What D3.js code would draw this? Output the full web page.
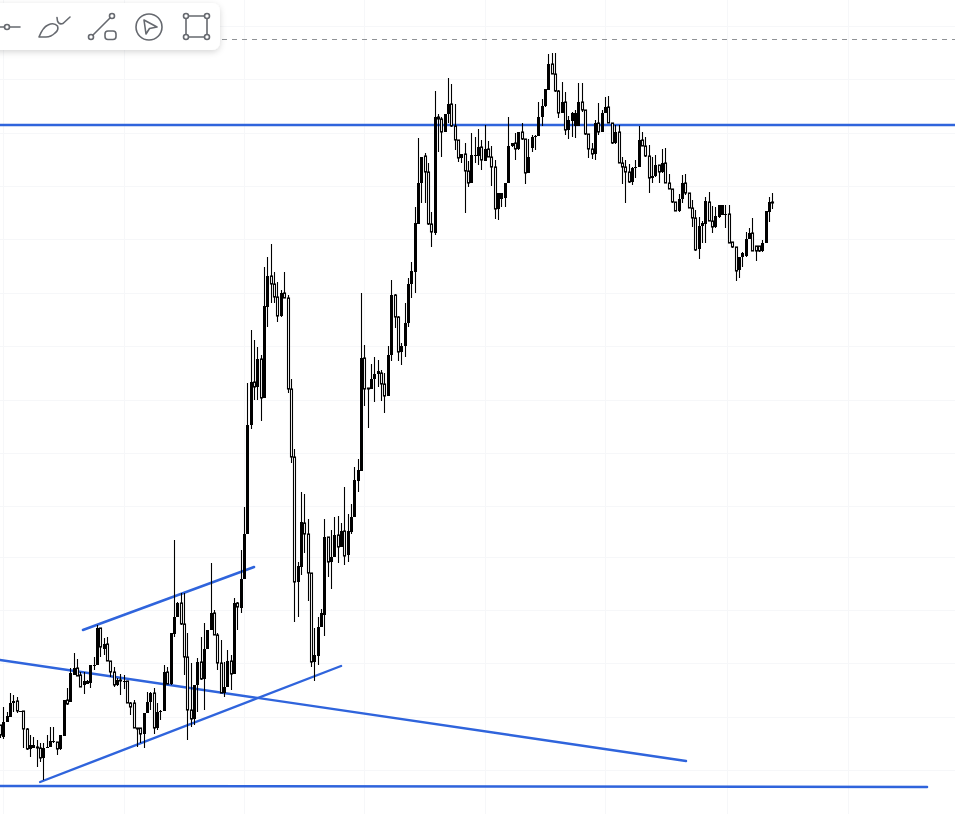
<!DOCTYPE html>
<html>
<head>
<meta charset="utf-8">
<script src="https://cdnjs.cloudflare.com/ajax/libs/d3/7.8.5/d3.min.js"></script>
<style>html,body{margin:0;padding:0;background:#fff;overflow:hidden}svg{display:block}</style>
</head>
<body>
<script>
const opens = [
89,77,92,97,111,113,103,103,85,65,
66,67,66,56,66,67,72,72,65,78,
114,112,139,146,139,129,130,131,148,149,
186,165,170,153,142,129,134,133,133,111,
111,86,86,80,101,112,121,86,102,103,
142,130,180,197,211,190,157,104,95,129,
152,135,165,184,201,179,151,121,127,153,
140,211,206,235,280,389,432,427,455,416,
507,538,530,517,498,521,516,425,357,232,
247,291,280,241,152,158,187,199,277,252,
257,279,267,283,259,282,297,333,343,456,
426,425,435,440,441,430,418,459,519,497,
462,468,491,530,542,590,631,658,642,590,
581,697,695,682,700,710,688,674,656,660,
643,631,658,658,667,653,665,657,647,605,
615,616,631,668,671,665,682,675,641,666,
678,678,697,708,724,750,740,723,701,712,
684,693,688,688,712,704,680,665,660,691,
682,701,707,691,671,682,651,647,642,632,
646,647,674,668,658,636,638,649,642,651,
631,625,612,603,615,631,621,606,596,565,
588,590,612,593,587,597,599,600,600,572,
567,544,557,558,575,581,568,568,563,571,
602,612];
const highs = [
89,107,102,121,119,117,103,103,86,79,
77,74,71,71,79,87,87,72,79,114,
126,146,161,155,142,142,134,149,157,189,
186,176,177,153,147,136,140,139,133,112,
114,86,86,101,122,122,126,111,104,149,
147,181,274,212,221,221,181,151,129,156,
177,191,184,251,204,181,174,152,164,159,
216,212,264,307,431,484,474,467,459,547,
557,570,542,532,524,542,519,435,365,252,
322,320,295,241,186,197,205,295,277,284,
297,298,291,327,300,310,347,355,521,469,
426,450,457,454,444,441,468,534,520,498,
471,511,536,552,607,676,657,661,651,602,
723,700,697,700,736,730,710,674,660,671,
653,681,677,685,674,689,673,668,654,621,
621,631,697,671,681,682,691,675,675,679,
679,712,715,725,760,761,761,724,732,722,
698,702,704,731,731,704,680,671,694,711,
704,717,718,691,689,689,657,654,650,647,
654,688,682,677,669,657,659,649,665,666,
640,625,612,620,639,640,621,614,604,597,
593,617,622,608,607,609,609,609,609,572,
567,557,562,582,586,596,568,568,574,603,
617,621];
const lows = [
76,75,92,97,102,101,102,66,64,57,
66,47,52,34,66,67,71,59,64,78,
109,112,139,138,127,120,130,126,144,149,
157,159,153,137,127,128,119,125,111,99,
86,67,71,66,101,104,80,84,94,103,
130,129,177,197,189,139,74,87,89,102,
134,104,165,184,179,144,121,117,127,124,
140,184,201,235,280,385,414,414,393,416,
487,511,511,492,497,516,421,351,192,197,
239,261,213,147,133,149,187,178,237,225,
257,251,267,249,252,280,297,322,343,408,
386,425,412,427,413,401,418,453,486,453,
449,457,487,516,521,590,611,611,589,567,
579,662,657,682,691,687,664,652,651,601,
627,631,651,649,644,653,657,628,595,594,
607,607,631,667,654,664,674,630,641,662,
664,678,688,707,724,740,722,696,701,679,
675,677,676,688,702,679,656,655,654,679,
682,701,691,670,670,651,630,611,631,629,
636,647,668,657,621,631,637,631,641,631,
625,611,603,602,611,619,606,587,563,555,
571,571,593,581,586,596,599,586,571,566,
533,536,547,557,575,563,553,562,562,571,
592,605];
const closes = [
79,92,98,111,113,103,103,85,65,69,
69,66,56,66,67,73,73,65,79,114,
110,141,146,138,127,133,133,149,149,186,
167,170,153,142,129,134,133,133,111,107,
86,85,80,101,112,121,86,102,103,142,
130,181,197,211,190,157,104,95,129,152,
135,165,184,201,179,151,121,127,153,140,
211,207,235,280,389,432,427,455,416,508,
538,530,517,498,521,516,425,357,232,248,
292,280,241,152,159,187,201,277,252,257,
279,267,283,258,283,297,334,344,456,425,
425,435,440,443,430,418,459,519,497,462,
468,491,530,543,591,631,657,642,590,582,
697,695,682,700,710,688,674,656,660,643,
631,659,659,667,654,665,657,647,605,621,
621,631,668,671,665,682,675,641,657,677,
678,697,708,725,750,740,723,701,712,684,
694,701,701,712,704,680,665,660,691,682,
701,707,691,671,682,651,647,642,632,646,
647,674,668,658,636,638,649,642,651,631,
625,612,603,615,631,621,606,596,564,588,
591,613,593,587,598,609,609,600,571,567,
543,557,561,575,581,563,563,563,571,603,
612,611];

// Drawn trend lines: candle index and price at each end
const trendStartIdx   = [0,   24.8, 0,    12,  0];
const trendStartPrice = [689, 184,  154,  32,  28];
const trendEndIdx     = [285.7, 76, 205.2, 102, 277.3];
const trendEndPrice   = [689, 247,  53,   148, 27];
const gridPrices = [788,735,681,628,575,521,468,414,361,308,257,204,151,97,44];
const gridIdx = [1,37,73,109,145,181,217.5,253.5];
const dashedPrice = 774.5;

const W = 955, H = 814;
const x = d3.scaleLinear().domain([0, 231]).range([0, 772.3]);
const y = d3.scaleLinear().domain([0, 814]).range([814, 0]);

const svg = d3.select("body").append("svg").attr("width", W).attr("height", H);
svg.append("rect").attr("width", W).attr("height", H).attr("fill", "#fff");

const grid = svg.append("g").attr("stroke", "#f6f7f9").attr("stroke-width", 1);
grid.selectAll("line.h").data(gridPrices).join("line").attr("class", "h")
  .attr("x1", 0).attr("x2", W)
  .attr("y1", d => Math.round(y(d)) + .5).attr("y2", d => Math.round(y(d)) + .5);
grid.selectAll("line.v").data(gridIdx).join("line").attr("class", "v")
  .attr("y1", 0).attr("y2", H)
  .attr("x1", d => Math.round(x(d)) + .5).attr("x2", d => Math.round(x(d)) + .5);

svg.append("line").attr("x1", 222).attr("x2", W)
  .attr("y1", y(dashedPrice)).attr("y2", y(dashedPrice))
  .attr("stroke", "#8f9296").attr("stroke-width", 1).attr("stroke-dasharray", "5 5");

svg.append("g").attr("stroke", "#2f64dc").attr("stroke-width", 2.4).attr("stroke-linecap", "round")
  .selectAll("line").data(d3.range(trendStartIdx.length)).join("line")
  .attr("x1", i => x(trendStartIdx[i])).attr("y1", i => y(trendStartPrice[i]))
  .attr("x2", i => x(trendEndIdx[i])).attr("y2", i => y(trendEndPrice[i]));

const candles = svg.append("g").selectAll("g").data(d3.range(opens.length)).join("g")
  .attr("transform", i => `translate(${Math.round(x(i))},0)`);
candles.append("line")
  .attr("x1", .5).attr("x2", .5)
  .attr("y1", i => y(highs[i])).attr("y2", i => y(lows[i]))
  .attr("stroke", "#000").attr("stroke-width", 1.1);
candles.append("rect")
  .attr("x", i => closes[i] >= opens[i] ? -1 : -.5)
  .attr("width", i => closes[i] >= opens[i] ? 3 : 2)
  .attr("y", i => y(Math.max(opens[i], closes[i])))
  .attr("height", i => Math.max(1, Math.abs(opens[i] - closes[i])))
  .attr("fill", i => closes[i] >= opens[i] ? "#000" : "#fff")
  .attr("stroke", i => closes[i] >= opens[i] ? "none" : "#000")
  .attr("stroke-width", 1.1);

// Toolbar
const defs = svg.append("defs");
const f = defs.append("filter").attr("id", "sh").attr("x", "-10%").attr("y", "-30%").attr("width", "120%").attr("height", "170%");
f.append("feDropShadow").attr("dx", 0).attr("dy", 2).attr("stdDeviation", 3).attr("flood-color", "#000").attr("flood-opacity", .16);
svg.append("rect").attr("x", -20).attr("y", 3).attr("width", 240).attr("height", 47).attr("rx", 8)
  .attr("fill", "#fff").attr("filter", "url(#sh)");
const ic = svg.append("g").attr("fill", "none").attr("stroke", "#66696f").attr("stroke-width", 1.6)
  .attr("stroke-linejoin", "round").attr("stroke-linecap", "round");
ic.append("path").attr("d", "M0 27H4.5M9.5 27H20");
ic.append("circle").attr("cx", 7).attr("cy", 27).attr("r", 2.5);
ic.append("path").attr("d", "M39 37Q43 27 48 25Q54 22 57.5 26Q59 30 55 33Q51 37 46 37Z");
ic.append("path").attr("d", "M57 17.5L57.5 21Q59 25 63 23.5L70 17");
ic.append("circle").attr("cx", 91).attr("cy", 37).attr("r", 2.5);
ic.append("circle").attr("cx", 112).attr("cy", 16).attr("r", 2.5);
ic.append("path").attr("d", "M93 35L110 18");
ic.append("rect").attr("x", 105).attr("y", 31).attr("width", 11).attr("height", 8.5).attr("rx", 3);
ic.append("circle").attr("cx", 149).attr("cy", 27).attr("r", 13);
ic.append("path").attr("d", "M144 20L157 27L149.5 28.5L146 34Z");
ic.append("rect").attr("x", 186).attr("y", 16).attr("width", 21).attr("height", 21);
[[186,16],[207,16],[186,37],[207,37]].forEach(p =>
  ic.append("circle").attr("cx", p[0]).attr("cy", p[1]).attr("r", 2.5).attr("fill", "#fff"));
</script>
</body>
</html>
